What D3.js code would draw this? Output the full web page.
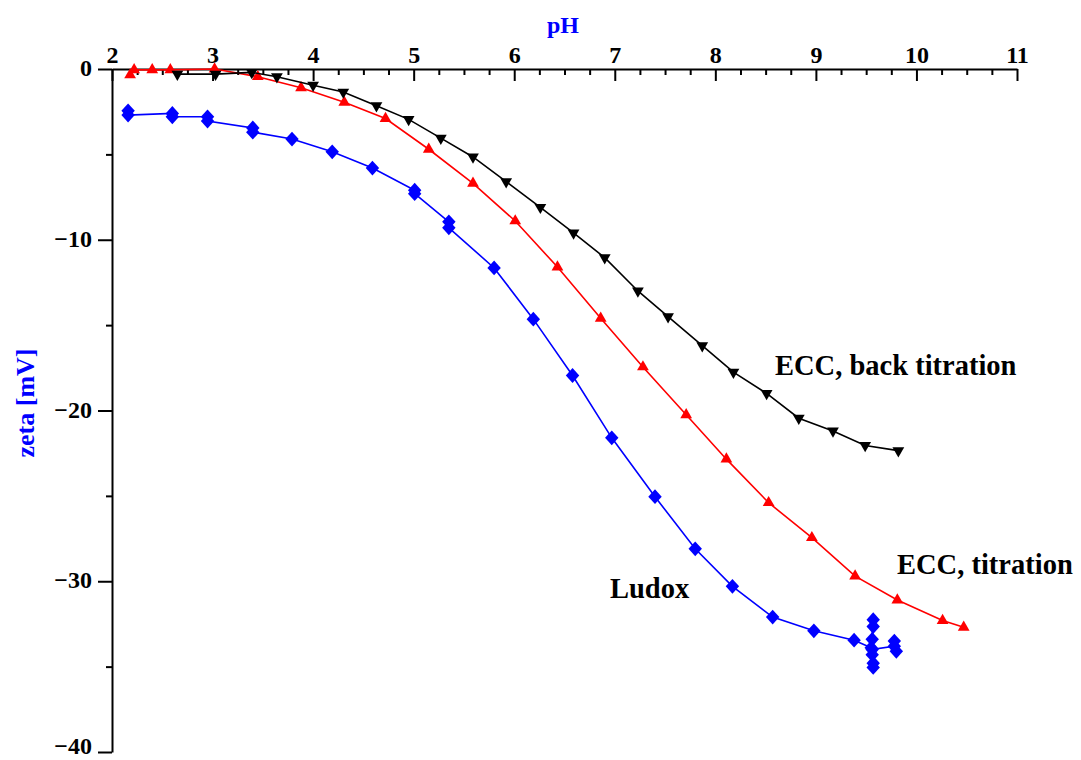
<!DOCTYPE html>
<html>
<head>
<meta charset="utf-8">
<script src="https://cdn.jsdelivr.net/npm/d3@7"></script>
<style>
  body { margin: 0; background: #fff; }
  svg { display: block; font-family: "Liberation Serif", "Times New Roman", serif; font-weight: bold; }
  .axis text { font-size: 24px; font-weight: bold; fill: #000; font-family: "Liberation Serif", serif; }
  .axis path, .axis line { stroke: #000; stroke-width: 2; }
</style>
</head>
<body>
<svg width="1081" height="760"></svg>
<script>
// pH tick labels and zeta tick labels
const xTicks = [2, 3, 4, 5, 6, 7, 8, 9, 10, 11];
const yTicks = [0, -10, -20, -30, -40];

// ECC, back titration (black, down triangles)
const backPH   = [2.65, 3.03, 3.39, 3.64, 4.0, 4.3, 4.63, 4.95, 5.27, 5.59, 5.92, 6.26, 6.59, 6.9, 7.23, 7.53, 7.87, 8.18, 8.51, 8.83, 9.17, 9.49, 9.82];
const backZeta = [-0.3, -0.3, -0.2, -0.45, -0.95, -1.35, -2.15, -2.95, -4.05, -5.15, -6.6, -8.1, -9.6, -11.05, -13.0, -14.5, -16.2, -17.75, -19.0, -20.45, -21.2, -22.05, -22.35];

// ECC, titration (red, up triangles)
const titPH   = [2.18, 2.22, 2.4, 2.58, 3.02, 3.45, 3.88, 4.31, 4.72, 5.15, 5.59, 6.01, 6.43, 6.86, 7.28, 7.71, 8.11, 8.53, 8.96, 9.39, 9.81, 10.26, 10.47];
const titZeta = [-0.35, -0.05, -0.05, -0.05, 0, -0.45, -1.1, -1.95, -2.9, -4.7, -6.7, -8.9, -11.6, -14.6, -17.45, -20.25, -22.85, -25.4, -27.45, -29.7, -31.1, -32.3, -32.7];

// Ludox (blue, diamonds)
const ludoxPH   = [2.16, 2.16, 2.6, 2.6, 2.95, 2.95, 3.4, 3.4, 3.79, 4.19, 4.59, 5.01, 5.01, 5.35, 5.35, 5.8, 6.19, 6.58, 6.97, 7.4, 7.8, 8.17, 8.57, 8.98, 9.38, 9.55, 9.57, 9.57, 9.56, 9.56, 9.57, 9.57, 9.56, 9.78, 9.8, 9.78];
const ludoxZeta = [-2.45, -2.7, -2.6, -2.8, -2.8, -3.05, -3.45, -3.7, -4.1, -4.85, -5.8, -7.1, -7.3, -8.95, -9.3, -11.65, -14.65, -17.95, -21.6, -25.05, -28.1, -30.3, -32.1, -32.9, -33.45, -33.9, -32.25, -32.65, -33.4, -34.3, -34.8, -35.05, -34.0, -33.8, -34.1, -33.5];

const svg = d3.select("svg");

const x = d3.scaleLinear().domain([2, 11]).range([112, 1017]);
const y = d3.scaleLinear().domain([0, -40]).range([69, 752]);

// x-akse oppe, ticks peger nedad
svg.append("g")
  .attr("class", "axis")
  .attr("transform", `translate(0,${y(0)})`)
  .call(d3.axisTop(x).tickValues(d3.range(2.25, 11, 0.25).filter(v => v % 1 !== 0)).tickSize(-6).tickFormat(""))
  .call(g => g.select(".domain").remove());

svg.append("g")
  .attr("class", "axis")
  .attr("transform", `translate(0,${y(0)})`)
  .call(d3.axisTop(x).tickValues(xTicks).tickSizeInner(-12).tickSizeOuter(0).tickPadding(6).tickFormat(d3.format("d")));

// y-akse
svg.append("g")
  .attr("class", "axis")
  .attr("transform", `translate(${x(2)},0)`)
  .call(d3.axisLeft(y).tickValues([-5, -15, -25, -35]).tickSize(6).tickFormat(""))
  .call(g => g.select(".domain").remove());

svg.append("g")
  .attr("class", "axis")
  .attr("transform", `translate(${x(2)},0)`)
  .call(d3.axisLeft(y).tickValues(yTicks).tickSizeInner(14).tickSizeOuter(0).tickPadding(6).tickFormat(d3.format("d")))
  .call(g => g.selectAll("text").attr("dy", d => d === -40 ? "0.05em" : "0.28em"));

// aksetitler
svg.append("text")
  .attr("x", 563).attr("y", 33)
  .attr("text-anchor", "middle")
  .attr("fill", "#0000ff")
  .style("font-size", "24px")
  .text("pH");

svg.append("text")
  .attr("transform", `translate(34,${403}) rotate(-90)`)
  .attr("text-anchor", "middle")
  .attr("fill", "#0000ff")
  .style("font-size", "26px")
  .text("zeta [mV]");

const series = [
  { ph: ludoxPH, z: ludoxZeta, color: "#0000ff", shape: "diamond" },
  { ph: titPH, z: titZeta, color: "#ff0000", shape: "up" },
  { ph: backPH, z: backZeta, color: "#000000", shape: "down" }
];

const line = d3.line().x(d => x(d[0])).y(d => y(d[1]));

// ruder som i originalen: bredere end d3's egen diamant
const diamond = { draw(ctx, size) { const r = Math.sqrt(size) / 2; ctx.moveTo(0, -r * 1.1); ctx.lineTo(r, 0); ctx.lineTo(0, r * 1.1); ctx.lineTo(-r, 0); ctx.closePath(); } };

series.forEach(s => {
  const pts = s.ph.map((p, i) => [p, s.z[i]]);
  svg.append("path")
    .datum(pts)
    .attr("d", line)
    .attr("fill", "none")
    .attr("stroke", s.color)
    .attr("stroke-width", 1.6);

  let sym;
  if (s.shape === "diamond") sym = d3.symbol().type(diamond).size(180);
  else sym = d3.symbol().type(d3.symbolTriangle).size(60);

  svg.append("g").selectAll("path")
    .data(pts)
    .join("path")
    .attr("d", sym)
    .attr("fill", s.color)
    .attr("transform", d => `translate(${x(d[0])},${y(d[1])})` + (s.shape === "down" ? " rotate(180)" : ""));
});

// kurve-etiketter
const labels = [
  { text: "ECC, back titration", x: 775, y: 375 },
  { text: "ECC, titration", x: 897, y: 574 },
  { text: "Ludox", x: 610, y: 598 }
];
svg.selectAll(".lab")
  .data(labels)
  .join("text")
  .attr("class", "lab")
  .attr("x", d => d.x).attr("y", d => d.y)
  .attr("fill", "#000")
  .style("font-size", "28.5px")
  .text(d => d.text);
</script>
</body>
</html>
